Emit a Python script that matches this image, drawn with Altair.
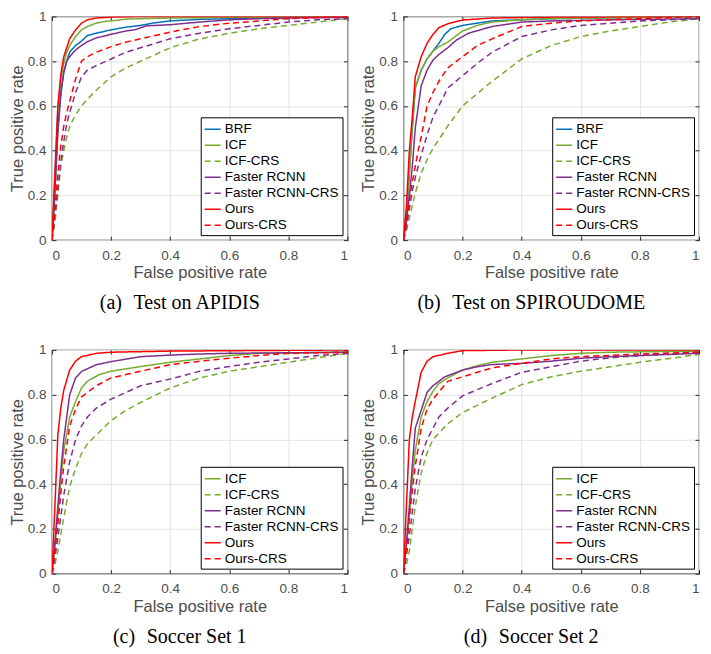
import altair as alt
import pandas as pd

SANS = "Liberation Sans"
SERIF = "Liberation Serif"
TICKS = [0, 0.2, 0.4, 0.6, 0.8, 1.0]

SERIES = ["BRF", "ICF", "ICF-CRS", "Faster RCNN", "Faster RCNN-CRS", "Ours", "Ours-CRS"]
COLORS = {"BRF": "#0072BD", "ICF": "#77AC30", "ICF-CRS": "#77AC30",
          "Faster RCNN": "#7E2F8E", "Faster RCNN-CRS": "#7E2F8E",
          "Ours": "#FF0000", "Ours-CRS": "#FF0000"}
DASHES = {"BRF": [1, 0], "ICF": [1, 0], "ICF-CRS": [6, 4],
          "Faster RCNN": [1, 0], "Faster RCNN-CRS": [6, 4],
          "Ours": [1, 0], "Ours-CRS": [6, 4]}

CAPTIONS = ["(a)\u2002\u200aTest on APIDIS", "(b)\u2002\u200aTest on SPIROUDOME",
            "(c)\u2002\u200aSoccer Set 1", "(d)\u2002\u200aSoccer Set 2"]

# ---------------- (a) APIDIS ----------------
A_BRF_X = [0, 0.005, 0.01, 0.02, 0.03, 0.04, 0.05, 0.06, 0.08, 0.1, 0.12, 0.15, 0.2, 0.25, 0.3, 0.35, 0.4, 0.5, 0.6, 0.8, 1.0]
A_BRF_Y = [0, 0.1, 0.22, 0.48, 0.65, 0.75, 0.8, 0.84, 0.87, 0.89, 0.915, 0.925, 0.94, 0.952, 0.96, 0.972, 0.98, 0.987, 0.99, 0.995, 1.0]
A_ICF_X = [0, 0.005, 0.01, 0.02, 0.03, 0.04, 0.05, 0.06, 0.08, 0.1, 0.12, 0.15, 0.18, 0.2, 0.25, 0.3, 0.4, 0.6, 1.0]
A_ICF_Y = [0, 0.14, 0.28, 0.58, 0.72, 0.79, 0.84, 0.87, 0.91, 0.94, 0.955, 0.97, 0.978, 0.98, 0.988, 0.99, 0.993, 0.996, 1.0]
A_ICFC_X = [0, 0.01, 0.02, 0.03, 0.04, 0.05, 0.06, 0.08, 0.1, 0.12, 0.15, 0.2, 0.25, 0.3, 0.4, 0.5, 0.6, 0.7, 0.8, 0.9, 1.0]
A_ICFC_Y = [0, 0.08, 0.2, 0.33, 0.4, 0.46, 0.51, 0.56, 0.6, 0.63, 0.67, 0.73, 0.77, 0.8, 0.86, 0.9, 0.925, 0.945, 0.96, 0.975, 0.99]
A_FR_X = [0, 0.005, 0.01, 0.02, 0.03, 0.04, 0.05, 0.06, 0.08, 0.1, 0.12, 0.15, 0.2, 0.25, 0.28, 0.32, 0.4, 0.5, 0.6, 0.7, 0.8, 1.0]
A_FR_Y = [0, 0.1, 0.22, 0.5, 0.66, 0.75, 0.8, 0.82, 0.85, 0.87, 0.887, 0.904, 0.92, 0.935, 0.94, 0.958, 0.963, 0.975, 0.985, 0.99, 0.993, 0.996]
A_FRC_X = [0, 0.005, 0.01, 0.02, 0.03, 0.04, 0.05, 0.06, 0.08, 0.1, 0.12, 0.15, 0.2, 0.25, 0.3, 0.4, 0.5, 0.6, 0.7, 0.8, 0.9, 1.0]
A_FRC_Y = [0, 0.05, 0.11, 0.23, 0.35, 0.44, 0.52, 0.57, 0.66, 0.73, 0.76, 0.78, 0.81, 0.84, 0.86, 0.9, 0.925, 0.945, 0.96, 0.975, 0.985, 0.99]
A_OURS_X = [0, 0.005, 0.01, 0.02, 0.03, 0.04, 0.05, 0.06, 0.08, 0.1, 0.12, 0.15, 0.2, 0.3, 0.5, 1.0]
A_OURS_Y = [0, 0.15, 0.3, 0.6, 0.74, 0.82, 0.86, 0.9, 0.94, 0.97, 0.985, 0.993, 0.997, 1.0, 1.0, 1.0]
A_OURSC_X = [0, 0.005, 0.01, 0.02, 0.03, 0.04, 0.05, 0.06, 0.08, 0.1, 0.12, 0.15, 0.2, 0.25, 0.3, 0.4, 0.5, 0.6, 0.7, 0.8, 0.9, 1.0]
A_OURSC_Y = [0, 0.06, 0.14, 0.3, 0.42, 0.51, 0.57, 0.62, 0.72, 0.8, 0.82, 0.84, 0.865, 0.885, 0.9, 0.93, 0.955, 0.97, 0.98, 0.99, 0.995, 1.0]

# ---------------- (b) SPIROUDOME ----------------
B_BRF_X = [0, 0.01, 0.02, 0.03, 0.04, 0.06, 0.08, 0.1, 0.12, 0.14, 0.16, 0.2, 0.25, 0.3, 0.5, 1.0]
B_BRF_Y = [0, 0.12, 0.3, 0.5, 0.68, 0.76, 0.81, 0.845, 0.88, 0.92, 0.945, 0.96, 0.97, 0.98, 0.99, 1.0]
B_ICF_X = [0, 0.01, 0.02, 0.03, 0.04, 0.06, 0.08, 0.1, 0.12, 0.15, 0.18, 0.2, 0.25, 0.3, 0.4, 0.5, 1.0]
B_ICF_Y = [0, 0.12, 0.3, 0.5, 0.68, 0.76, 0.81, 0.845, 0.865, 0.885, 0.915, 0.935, 0.96, 0.975, 0.985, 0.99, 1.0]
B_ICFC_X = [0, 0.01, 0.02, 0.04, 0.06, 0.08, 0.1, 0.12, 0.15, 0.2, 0.25, 0.3, 0.4, 0.5, 0.6, 0.7, 0.8, 0.9, 1.0]
B_ICFC_Y = [0, 0.04, 0.1, 0.21, 0.3, 0.36, 0.41, 0.45, 0.51, 0.6, 0.655, 0.71, 0.81, 0.87, 0.91, 0.935, 0.955, 0.975, 0.99]
B_FR_X = [0, 0.01, 0.02, 0.03, 0.04, 0.06, 0.08, 0.1, 0.12, 0.15, 0.18, 0.22, 0.3, 0.4, 0.5, 0.7, 1.0]
B_FR_Y = [0, 0.08, 0.2, 0.33, 0.5, 0.69, 0.76, 0.805, 0.83, 0.86, 0.895, 0.925, 0.955, 0.975, 0.98, 0.985, 0.99]
B_FRC_X = [0, 0.01, 0.02, 0.03, 0.04, 0.06, 0.08, 0.1, 0.12, 0.15, 0.2, 0.25, 0.3, 0.4, 0.5, 0.6, 0.8, 1.0]
B_FRC_Y = [0, 0.06, 0.14, 0.22, 0.28, 0.38, 0.47, 0.55, 0.6, 0.68, 0.735, 0.79, 0.84, 0.91, 0.94, 0.96, 0.98, 0.99]
B_OURS_X = [0, 0.005, 0.01, 0.02, 0.03, 0.04, 0.06, 0.08, 0.1, 0.12, 0.15, 0.2, 0.3, 0.5, 1.0]
B_OURS_Y = [0, 0.08, 0.15, 0.4, 0.55, 0.73, 0.82, 0.88, 0.92, 0.95, 0.967, 0.984, 0.993, 0.997, 1.0]
B_OURSC_X = [0, 0.01, 0.02, 0.03, 0.04, 0.05, 0.06, 0.08, 0.1, 0.12, 0.15, 0.2, 0.25, 0.3, 0.4, 0.5, 0.6, 0.8, 1.0]
B_OURSC_Y = [0, 0.08, 0.18, 0.26, 0.33, 0.4, 0.46, 0.6, 0.66, 0.71, 0.77, 0.82, 0.87, 0.9, 0.955, 0.97, 0.98, 0.99, 1.0]

# ---------------- (c) Soccer Set 1 ----------------
C_ICF_X = [0, 0.01, 0.02, 0.03, 0.04, 0.06, 0.08, 0.1, 0.12, 0.16, 0.2, 0.3, 0.4, 0.5, 0.6, 0.7, 1.0]
C_ICF_Y = [0, 0.12, 0.26, 0.42, 0.55, 0.7, 0.77, 0.83, 0.86, 0.89, 0.905, 0.926, 0.945, 0.96, 0.975, 0.985, 0.99]
C_ICFC_X = [0, 0.01, 0.02, 0.04, 0.06, 0.08, 0.1, 0.12, 0.15, 0.2, 0.25, 0.3, 0.4, 0.5, 0.6, 0.7, 0.8, 0.9, 1.0]
C_ICFC_Y = [0, 0.04, 0.1, 0.25, 0.39, 0.47, 0.537, 0.58, 0.62, 0.684, 0.73, 0.765, 0.83, 0.875, 0.905, 0.925, 0.945, 0.965, 0.985]
C_FR_X = [0, 0.01, 0.02, 0.03, 0.04, 0.06, 0.08, 0.1, 0.15, 0.2, 0.3, 0.4, 0.5, 0.6, 1.0]
C_FR_Y = [0, 0.14, 0.3, 0.46, 0.6, 0.8, 0.875, 0.904, 0.934, 0.948, 0.97, 0.977, 0.982, 0.985, 0.99]
C_FRC_X = [0, 0.01, 0.02, 0.04, 0.06, 0.08, 0.1, 0.12, 0.15, 0.2, 0.25, 0.3, 0.4, 0.5, 0.6, 0.7, 0.8, 0.9, 1.0]
C_FRC_Y = [0, 0.07, 0.16, 0.35, 0.5, 0.6, 0.66, 0.7, 0.74, 0.78, 0.81, 0.84, 0.87, 0.905, 0.926, 0.945, 0.96, 0.975, 0.985]
C_OURS_X = [0, 0.005, 0.01, 0.02, 0.03, 0.04, 0.06, 0.08, 0.1, 0.15, 0.2, 0.4, 1.0]
C_OURS_Y = [0, 0.15, 0.3, 0.62, 0.74, 0.82, 0.91, 0.95, 0.97, 0.985, 0.99, 0.995, 1.0]
C_OURSC_X = [0, 0.01, 0.02, 0.03, 0.04, 0.06, 0.08, 0.1, 0.15, 0.2, 0.3, 0.4, 0.5, 0.6, 0.7, 0.8, 1.0]
C_OURSC_Y = [0, 0.1, 0.22, 0.36, 0.48, 0.66, 0.735, 0.79, 0.84, 0.875, 0.905, 0.934, 0.95, 0.963, 0.975, 0.985, 0.99]

# ---------------- (d) Soccer Set 2 ----------------
D_ICF_X = [0, 0.01, 0.02, 0.03, 0.04, 0.06, 0.08, 0.1, 0.12, 0.15, 0.2, 0.25, 0.3, 0.4, 0.5, 0.6, 0.7, 1.0]
D_ICF_Y = [0, 0.12, 0.26, 0.42, 0.55, 0.7, 0.77, 0.815, 0.85, 0.875, 0.91, 0.93, 0.945, 0.96, 0.975, 0.985, 0.99, 0.995]
D_ICFC_X = [0, 0.01, 0.02, 0.04, 0.06, 0.08, 0.1, 0.15, 0.2, 0.3, 0.4, 0.5, 0.6, 0.7, 0.8, 0.9, 1.0]
D_ICFC_Y = [0, 0.04, 0.1, 0.3, 0.45, 0.54, 0.6, 0.67, 0.72, 0.785, 0.845, 0.88, 0.905, 0.925, 0.945, 0.962, 0.98]
D_FR_X = [0, 0.01, 0.02, 0.03, 0.04, 0.06, 0.08, 0.1, 0.14, 0.2, 0.25, 0.3, 0.4, 0.5, 0.6, 0.7, 0.8, 1.0]
D_FR_Y = [0, 0.14, 0.3, 0.48, 0.65, 0.73, 0.81, 0.84, 0.88, 0.91, 0.925, 0.935, 0.94, 0.95, 0.963, 0.97, 0.975, 0.985]
D_FRC_X = [0, 0.01, 0.02, 0.04, 0.06, 0.08, 0.1, 0.12, 0.15, 0.2, 0.3, 0.4, 0.5, 0.6, 0.7, 0.8, 1.0]
D_FRC_Y = [0, 0.08, 0.17, 0.38, 0.52, 0.6, 0.65, 0.7, 0.74, 0.795, 0.85, 0.9, 0.925, 0.95, 0.965, 0.975, 0.99]
D_OURS_X = [0, 0.005, 0.01, 0.02, 0.03, 0.04, 0.06, 0.08, 0.1, 0.15, 0.2, 0.4, 1.0]
D_OURS_Y = [0, 0.15, 0.3, 0.6, 0.7, 0.77, 0.9, 0.95, 0.97, 0.985, 0.997, 1.0, 1.0]
D_OURSC_X = [0, 0.01, 0.02, 0.03, 0.04, 0.06, 0.08, 0.1, 0.15, 0.2, 0.3, 0.4, 0.5, 0.6, 0.8, 1.0]
D_OURSC_Y = [0, 0.11, 0.25, 0.37, 0.48, 0.65, 0.735, 0.78, 0.86, 0.88, 0.92, 0.94, 0.96, 0.97, 0.982, 0.99]

PANEL_A = [("BRF", A_BRF_X, A_BRF_Y), ("ICF", A_ICF_X, A_ICF_Y), ("ICF-CRS", A_ICFC_X, A_ICFC_Y),
           ("Faster RCNN", A_FR_X, A_FR_Y), ("Faster RCNN-CRS", A_FRC_X, A_FRC_Y),
           ("Ours", A_OURS_X, A_OURS_Y), ("Ours-CRS", A_OURSC_X, A_OURSC_Y)]
PANEL_B = [("BRF", B_BRF_X, B_BRF_Y), ("ICF", B_ICF_X, B_ICF_Y), ("ICF-CRS", B_ICFC_X, B_ICFC_Y),
           ("Faster RCNN", B_FR_X, B_FR_Y), ("Faster RCNN-CRS", B_FRC_X, B_FRC_Y),
           ("Ours", B_OURS_X, B_OURS_Y), ("Ours-CRS", B_OURSC_X, B_OURSC_Y)]
PANEL_C = [("ICF", C_ICF_X, C_ICF_Y), ("ICF-CRS", C_ICFC_X, C_ICFC_Y),
           ("Faster RCNN", C_FR_X, C_FR_Y), ("Faster RCNN-CRS", C_FRC_X, C_FRC_Y),
           ("Ours", C_OURS_X, C_OURS_Y), ("Ours-CRS", C_OURSC_X, C_OURSC_Y)]
PANEL_D = [("ICF", D_ICF_X, D_ICF_Y), ("ICF-CRS", D_ICFC_X, D_ICFC_Y),
           ("Faster RCNN", D_FR_X, D_FR_Y), ("Faster RCNN-CRS", D_FRC_X, D_FRC_Y),
           ("Ours", D_OURS_X, D_OURS_Y), ("Ours-CRS", D_OURSC_X, D_OURSC_Y)]

W, H = 296, 224


def panel(parts, caption):
    rows = []
    names = []
    for name, xs, ys in parts:
        names.append(name)
        for i, (x, y) in enumerate(zip(xs, ys)):
            rows.append({"series": name, "fpr": x, "tpr": y, "i": i})
    df = pd.DataFrame(rows)
    sc = alt.Scale(domain=[0, 1], nice=False, zero=False)
    leg = alt.Legend(title=None, orient="bottom-right", offset=5, symbolType="stroke",
                     symbolSize=256, symbolStrokeWidth=1.5, labelFont=SANS, labelFontSize=13.5,
                     labelColor="black", fillColor="white", strokeColor="black",
                     padding=3, rowPadding=0, labelOffset=3, cornerRadius=0)
    lines = alt.Chart(df).mark_line(strokeWidth=1.5, clip=True).encode(
        x=alt.X("fpr:Q", scale=sc,
                axis=alt.Axis(values=TICKS, format="~g", title="False positive rate", grid=True,
                              offset=-4, tickSize=4, labelPadding=8, titlePadding=3, domain=False)),
        y=alt.Y("tpr:Q", scale=sc,
                axis=alt.Axis(values=TICKS, format="~g", title="True positive rate", grid=True,
                              offset=-4, tickSize=4, labelPadding=6, titlePadding=2, domain=False)),
        color=alt.Color("series:N", scale=alt.Scale(domain=names, range=[COLORS[n] for n in names]),
                        legend=leg),
        strokeDash=alt.StrokeDash("series:N",
                                  scale=alt.Scale(domain=names, range=[DASHES[n] for n in names]),
                                  legend=leg),
        order="i:Q",
    )
    frame = alt.Chart(df).mark_point(opacity=0).encode(
        x=alt.X("fpr:Q", scale=sc,
                axis=alt.Axis(orient="top", values=TICKS, labels=False, title=None, grid=False,
                              offset=-4, tickSize=4, domain=False)),
        y=alt.Y("tpr:Q", scale=sc,
                axis=alt.Axis(orient="right", values=TICKS, labels=False, title=None, grid=False,
                              offset=-4, tickSize=4, domain=False)),
    )
    title = alt.TitleParams(text=caption, orient="bottom", anchor="middle", frame="bounds",
                            font=SERIF, fontSize=20, fontWeight="normal", color="black", offset=12)
    return alt.layer(lines, frame, title=title).resolve_scale(
        x="independent", y="independent").properties(width=W, height=H)


pa = panel(PANEL_A, CAPTIONS[0])
pb = panel(PANEL_B, CAPTIONS[1])
pc = panel(PANEL_C, CAPTIONS[2])
pd_ = panel(PANEL_D, CAPTIONS[3])

top = alt.hconcat(pa, pb, spacing=8).resolve_scale(color="independent", strokeDash="independent")
bottom = alt.hconcat(pc, pd_, spacing=8).resolve_scale(color="independent", strokeDash="independent")

chart = alt.vconcat(top, bottom, spacing=28).resolve_scale(
    color="independent", strokeDash="independent"
).properties(padding=0, background="white").configure_view(
    stroke="#262626", strokeWidth=1.2
).configure_axis(
    labelFont=SANS, labelFontSize=13.5, labelColor="#4d4d4d",
    titleFont=SANS, titleFontSize=16.5, titleFontWeight="normal", titleColor="#4d4d4d",
    tickColor="#262626", tickWidth=1, gridColor="#e3e3e3", gridWidth=1
)

chart.save("out.html", embed_options={"renderer": "svg", "actions": False})
